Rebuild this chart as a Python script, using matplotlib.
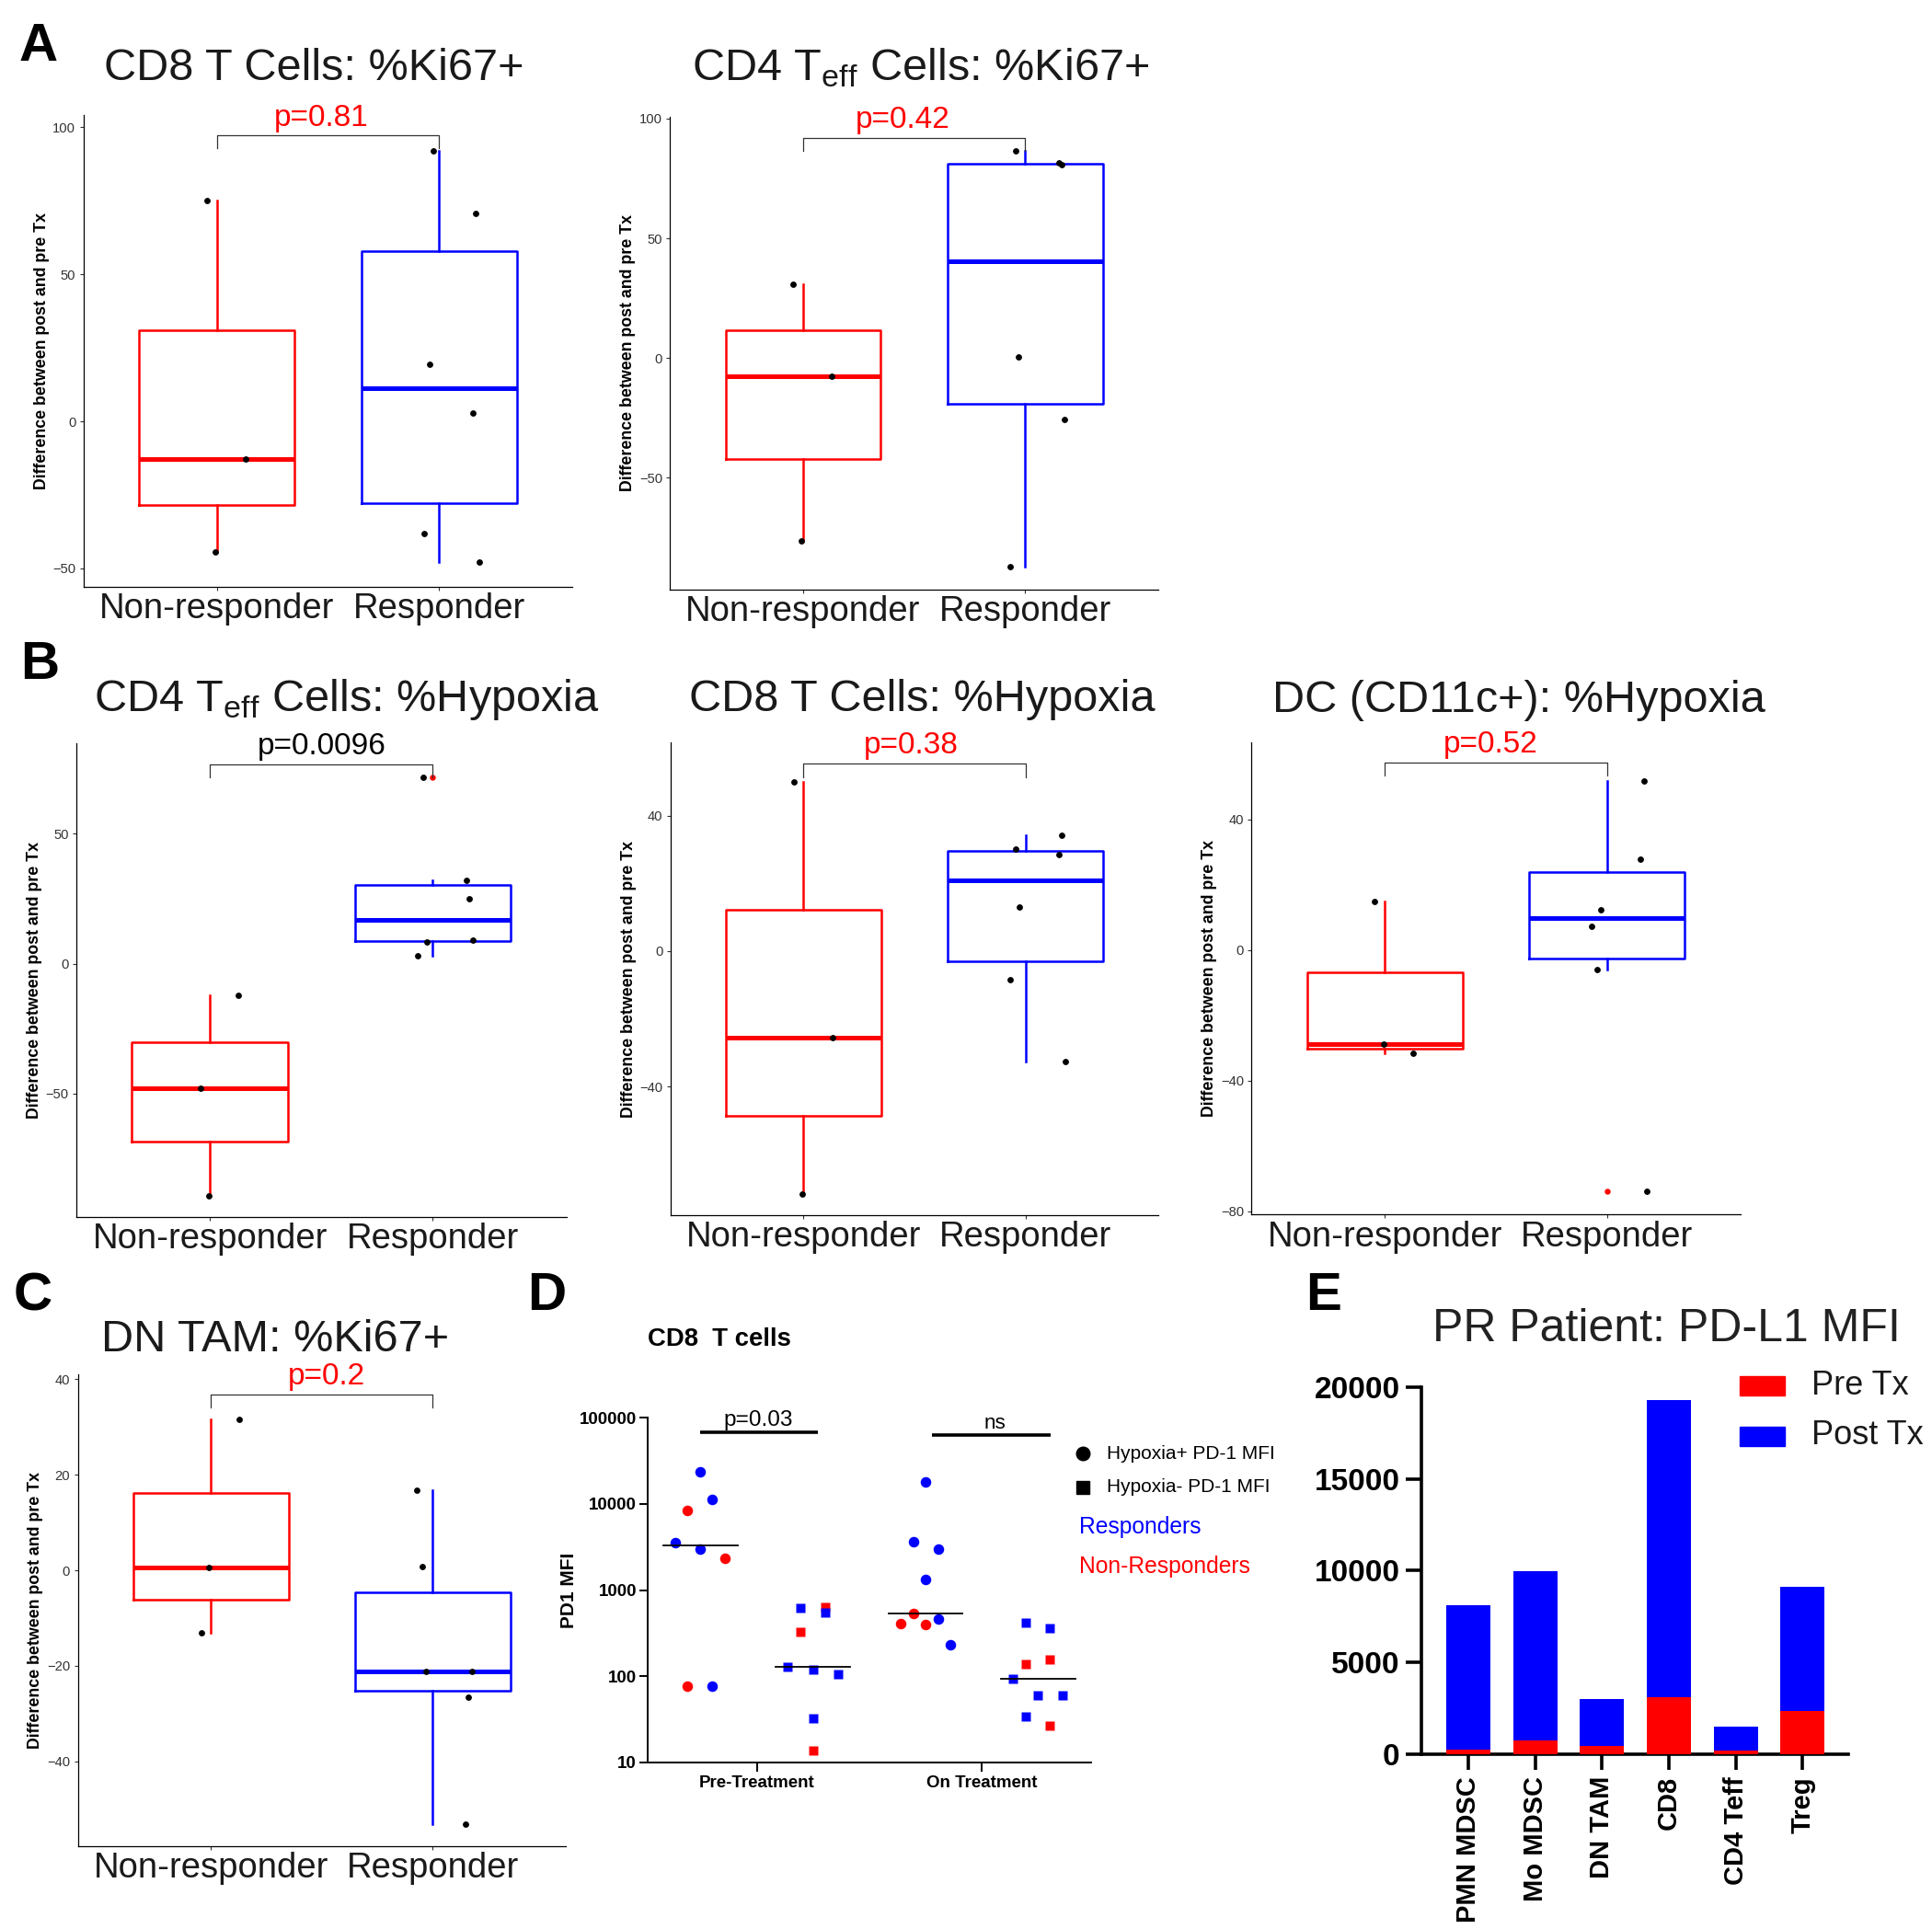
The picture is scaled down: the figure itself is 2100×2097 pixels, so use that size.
import numpy as np
import matplotlib
matplotlib.use('Agg')
import matplotlib.pyplot as plt
from matplotlib import font_manager
from matplotlib.lines import Line2D
from matplotlib.patches import Rectangle

W, H = 2100, 2097

plt.rcParams['font.family'] = 'Liberation Sans'
plt.rcParams['mathtext.fontset'] = 'custom'
plt.rcParams['mathtext.rm'] = 'Liberation Sans'
plt.rcParams['mathtext.it'] = 'Liberation Sans'
plt.rcParams['mathtext.bf'] = 'Liberation Sans:bold'

names = {f.name for f in font_manager.fontManager.ttflist}
if 'Liberation Sans Narrow' in names:
    narrow, nscale = 'Liberation Sans Narrow', 1.0
else:
    narrow, nscale = 'Liberation Sans', 0.9

# ---------------- data ----------------
groups = ['Non-responder', 'Responder']

# A: CD8 T cells %Ki67+
cd8_ki67_nr = [75, -12.8, -44.3]
cd8_ki67_r = [92, 70.6, 19.4, 3.0, -38.0, -47.8]
# A: CD4 Teff %Ki67+
cd4_ki67_nr = [30.9, -7.7, -76.5]
cd4_ki67_r = [86.6, 81.4, 80.6, 0.3, -25.5, -87.0]
# B: CD4 Teff %Hypoxia
cd4_hyp_nr = [-12.2, -48.0, -89.4]
cd4_hyp_r = [71.7, 32.2, 25.0, 9.0, 8.4, 3.0]
# B: CD8 T %Hypoxia
cd8_hyp_nr = [50.0, -25.5, -71.6]
cd8_hyp_r = [34.3, 30.1, 28.5, 13.0, -8.5, -32.6]
# B: DC (CD11c+) %Hypoxia
dc_hyp_nr = [15.0, -28.8, -31.7]
dc_hyp_r = [51.7, 27.9, 12.3, 7.4, -5.9, -74.0]
# C: DN TAM %Ki67+
tam_ki67_nr = [31.7, 0.6, -13.0]
tam_ki67_r = [16.7, 0.8, -21.2, -21.2, -26.6, -53.2]

# horizontal jitter of the dots (category units)
cd8_ki67_nr_jit = [-0.046, 0.128, -0.007]
cd8_ki67_r_jit = [-0.027, 0.164, -0.044, 0.150, -0.069, 0.179]
cd4_ki67_nr_jit = [-0.046, 0.128, -0.007]
cd4_ki67_r_jit = [-0.044, 0.154, 0.166, -0.029, 0.177, -0.069]
cd4_hyp_nr_jit = [0.128, -0.043, -0.005]
cd4_hyp_r_jit = [-0.043, 0.151, 0.165, 0.181, -0.026, -0.069]
cd8_hyp_nr_jit = [-0.045, 0.129, -0.007]
cd8_hyp_r_jit = [0.163, -0.045, 0.149, -0.027, -0.070, 0.178]
dc_hyp_nr_jit = [-0.046, -0.007, 0.127]
dc_hyp_r_jit = [0.164, 0.150, -0.028, -0.071, -0.044, 0.180]
tam_ki67_nr_jit = [0.128, -0.007, -0.044]
tam_ki67_r_jit = [-0.071, -0.046, -0.030, 0.177, 0.162, 0.149]

# D: PD1 MFI on CD8 T cells (1 = responder, 0 = non-responder)
d_ticklabels = ['Pre-Treatment', 'On Treatment']
pre_hpos = [23200, 11200, 8450, 3560, 3000, 2350, 77, 77]
pre_hpos_resp = [1, 1, 0, 1, 1, 0, 0, 1]
pre_hpos_jit = [0, 0.107, -0.115, -0.226, 0, 0.218, -0.115, 0.107]
pre_hneg = [617, 631, 551, 325, 128, 120, 105, 32.9, 13.8]
pre_hneg_resp = [1, 0, 1, 0, 1, 1, 1, 1, 0]
pre_hneg_jit = [-0.115, 0.107, 0.107, -0.115, -0.226, 0, 0.222, 0, 0]
on_hpos = [18100, 3600, 3000, 1340, 533, 460, 407, 394, 232]
on_hpos_resp = [1, 1, 1, 1, 0, 1, 0, 0, 1]
on_hpos_jit = [0, -0.111, 0.111, 0, -0.111, 0.111, -0.222, 0, 0.222]
on_hneg = [417, 364, 157, 137, 94.6, 59.7, 59.7, 34, 26.9]
on_hneg_resp = [1, 1, 0, 0, 1, 1, 1, 1, 0]
on_hneg_jit = [-0.111, 0.103, 0.103, -0.111, -0.222, 0, 0.214, -0.111, 0.103]

# E: PR patient PD-L1 MFI
e_cells = ['PMN MDSC', 'Mo MDSC', 'DN TAM', 'CD8', 'CD4 Teff', 'Treg']
e_pre = [274, 755, 480, 3134, 229, 2356]
e_post = [8097, 9995, 2996, 19259, 1532, 9103]

RED, BLUE = '#ff0000', '#0000ff'
TXT = '#1a1a1a'

fig = plt.figure(figsize=(W / 100, H / 100), dpi=100)


def add_ax(l, t, r, b):
    return fig.add_axes([l / W, 1 - b / H, (r - l) / W, (b - t) / H])


def ftext(x, y, s, **kw):
    return fig.text(x / W, 1 - y / H, s, **kw)


def box_panel(rect, nr, r, nr_jit, r_jit, ylim, yticks, br, ptxt, pcol, pxy,
              title, txy):
    ax = add_ax(*rect)
    for pos, vals, col in [(1, nr, RED), (2, r, BLUE)]:
        ax.boxplot(vals, positions=[pos], widths=0.7, showcaps=False,
                   manage_ticks=False,
                   boxprops=dict(color=col, linewidth=1.8),
                   whiskerprops=dict(color=col, linewidth=1.8),
                   medianprops=dict(color=col, linewidth=3.6,
                                    solid_capstyle='butt'),
                   flierprops=dict(marker='o', markerfacecolor=RED,
                                   markeredgecolor=RED, markersize=3.6))
    ax.plot(1 + np.array(nr_jit), nr, 'o', color='black', ms=3.9, zorder=4)
    ax.plot(2 + np.array(r_jit), r, 'o', color='black', ms=3.9, zorder=4)
    ax.plot([1, 1, 2, 2], [br[1], br[0], br[0], br[1]], color='#333333',
            lw=0.9, clip_on=False)
    ax.text(pxy[0], pxy[1], ptxt, color=pcol, fontsize=24, ha='center',
            va='center')
    ax.set_xlim(0.4, 2.6)
    ax.set_ylim(*ylim)
    ax.set_yticks(yticks)
    ax.set_xticks([1, 2], groups)
    for s in ['top', 'right']:
        ax.spines[s].set_visible(False)
    for s in ['left', 'bottom']:
        ax.spines[s].set_linewidth(0.9)
    ax.tick_params(axis='x', length=3, width=0.8, color='#333333', pad=1.5,
                   labelsize=27.5, labelcolor=TXT)
    ax.tick_params(axis='y', length=3, width=0.8, color='#333333', pad=3,
                   labelsize=10.6, labelcolor='#333333')
    l, t, rr, b = rect
    ftext(l - 45.5, (t + b) / 2, 'Difference between post and pre Tx',
          rotation=90, ha='center', va='center', fontsize=12.8,
          fontweight='bold', color='black')
    ftext(txy[0], txy[1], title, ha='center', va='baseline', fontsize=35,
          color=TXT)
    return ax


box_panel((90.6, 125, 622.4, 637.5), cd8_ki67_nr, cd8_ki67_r,
          cd8_ki67_nr_jit, cd8_ki67_r_jit, (-56.1, 104.2), [-50, 0, 50, 100],
          (97.2, 93.0), 'p=0.81', RED, (1.47, 103), 'CD8 T Cells: %Ki67+',
          (341.6, 87))
box_panel((728.4, 127, 1258.8, 641), cd4_ki67_nr, cd4_ki67_r,
          cd4_ki67_nr_jit, cd4_ki67_r_jit, (-96.7, 100.7), [-50, 0, 50, 100],
          (91.7, 86.4), 'p=0.42', RED, (1.45, 99.4),
          r'CD4 T$_{\mathregular{eff}}$ Cells: %Ki67+', (1001, 87))
box_panel((82.9, 808.3, 615.8, 1323), cd4_hyp_nr, cd4_hyp_r,
          cd4_hyp_nr_jit, cd4_hyp_r_jit, (-97.6, 84.8), [-50, 0, 50],
          (76.7, 71.8), 'p=0.0096', 'black', (1.5, 83.7),
          r'CD4 T$_{\mathregular{eff}}$ Cells: %Hypoxia', (377, 772.6))
box_panel((728.8, 807.4, 1259.3, 1320.8), cd8_hyp_nr, cd8_hyp_r,
          cd8_hyp_nr_jit, cd8_hyp_r_jit, (-77.9, 61.5), [-40, 0, 40],
          (55.3, 51.4), 'p=0.38', RED, (1.485, 60.6),
          'CD8 T Cells: %Hypoxia', (1002, 772.6))
box_panel((1360.3, 807.4, 1891.9, 1320.3), dc_hyp_nr, dc_hyp_r,
          dc_hyp_nr_jit, dc_hyp_r_jit, (-81, 63.5), [-80, -40, 0, 40],
          (57.4, 53.5), 'p=0.52', RED, (1.475, 62.9),
          'DC (CD11c+): %Hypoxia', (1651, 774))
box_panel((84.5, 1494.3, 614.9, 2006.5), tam_ki67_nr, tam_ki67_r,
          tam_ki67_nr_jit, tam_ki67_r_jit, (-57.7, 41), [-40, -20, 0, 20, 40],
          (36.8, 34.1), 'p=0.2', RED, (1.52, 40.5), 'DN TAM: %Ki67+',
          (299, 1469))

# ---------------- D ----------------
axd = add_ax(703.8, 1541, 1186, 1916)
axd.set_yscale('log')
d_sets = [(1, pre_hpos, pre_hpos_resp, pre_hpos_jit, 'o'),
          (2, pre_hneg, pre_hneg_resp, pre_hneg_jit, 's'),
          (3, on_hpos, on_hpos_resp, on_hpos_jit, 'o'),
          (4, on_hneg, on_hneg_resp, on_hneg_jit, 's')]
for pos, vals, resp, jit, mk in d_sets:
    for v, rsp, j in zip(vals, resp, jit):
        axd.plot(pos + j, v, mk, color=BLUE if rsp else RED,
                 ms=8.3 if mk == 'o' else 7.5, mec='none', zorder=3)
    med = np.median(vals)
    axd.plot([pos - 0.33, pos + 0.33], [med, med], color='black', lw=1.3,
             zorder=4)
axd.plot([1.0, 2.047], [66700, 66700], color='black', lw=2.6,
         solid_capstyle='butt', clip_on=False)
axd.plot([3.056, 4.107], [63000, 63000], color='black', lw=2.6,
         solid_capstyle='butt', clip_on=False)
axd.annotate('p=0.03', (1.517, 66700), xytext=(0, 1.5),
             textcoords='offset points', ha='center', va='bottom',
             family=narrow, fontsize=19.5 * nscale, annotation_clip=False)
axd.annotate('ns', (3.615, 63000), xytext=(0, 1.5),
             textcoords='offset points', ha='center', va='bottom',
             family=narrow, fontsize=18 * nscale, annotation_clip=False)
axd.set_xlim(0.53, 4.47)
axd.set_ylim(10, 100000)
axd.minorticks_off()
axd.set_yticks([10, 100, 1000, 10000, 100000],
               ['10', '100', '1000', '10000', '100000'])
axd.set_xticks([1.5, 3.5], d_ticklabels)
for s in ['top', 'right']:
    axd.spines[s].set_visible(False)
for s in ['left', 'bottom']:
    axd.spines[s].set_linewidth(1.4)
axd.tick_params(axis='y', length=6.5, width=1.4, pad=2)
axd.tick_params(axis='x', length=7, width=1.4, pad=3)
for lab in axd.get_yticklabels() + axd.get_xticklabels():
    lab.set_family(narrow)
    lab.set_fontweight('bold')
    lab.set_fontsize(15 * nscale)
ftext(618.6, 1728.5, 'PD1 MFI', rotation=90, ha='center', va='center',
      fontsize=15, fontweight='bold')
ftext(703.8, 1463, 'CD8  T cells', ha='left', va='baseline', family=narrow,
      fontweight='bold', fontsize=22 * nscale)
fig.add_artist(Line2D([1177 / W], [1 - 1580 / H], marker='o', ms=10.5,
                      color='black', ls='none', transform=fig.transFigure))
fig.add_artist(Line2D([1177 / W], [1 - 1617 / H], marker='s', ms=9.8,
                      color='black', ls='none', transform=fig.transFigure))
ftext(1203, 1580, 'Hypoxia+ PD-1 MFI', va='center', family=narrow,
      fontsize=16.7 * nscale)
ftext(1203, 1617, 'Hypoxia- PD-1 MFI', va='center', family=narrow,
      fontsize=16.7 * nscale)
ftext(1173, 1660, 'Responders', va='center', family=narrow,
      fontsize=19.7 * nscale, color=BLUE)
ftext(1173, 1703, 'Non-Responders', va='center', family=narrow,
      fontsize=19.7 * nscale, color=RED)

# ---------------- E ----------------
axe = add_ax(1545, 1507.6, 2009.4, 1907.3)
xe = np.arange(len(e_cells))
axe.bar(xe, e_post, width=0.66, color=BLUE, zorder=2)
axe.bar(xe, e_pre, width=0.66, color=RED, zorder=3)
axe.set_xlim(-0.70, 5.69)
axe.set_ylim(0, 20000)
axe.set_yticks([0, 5000, 10000, 15000, 20000],
               ['0', '5000', '10000', '15000', '20000'])
axe.set_xticks(xe, e_cells, rotation=90)
for s in ['top', 'right']:
    axe.spines[s].set_visible(False)
for s in ['left', 'bottom']:
    axe.spines[s].set_linewidth(2.6)
axe.tick_params(axis='y', length=11.9, width=2.6, pad=5, labelsize=24)
axe.tick_params(axis='x', length=12, width=2.6, pad=5, labelsize=21)
for lab in axe.get_yticklabels() + axe.get_xticklabels():
    lab.set_fontweight('bold')
ftext(1811, 1458, 'PR Patient: PD-L1 MFI', ha='center', va='baseline',
      fontsize=36, color='#222222')
fig.add_artist(Rectangle((1891 / W, 1 - 1517 / H), 49 / W, 21.3 / H,
                         color=RED, transform=fig.transFigure))
fig.add_artist(Rectangle((1891 / W, 1 - 1572 / H), 49 / W, 21.3 / H,
                         color=BLUE, transform=fig.transFigure))
ftext(1969, 1506, 'Pre Tx', va='center', fontsize=26, color=TXT)
ftext(1969, 1561, 'Post Tx', va='center', fontsize=26, color=TXT)

# panel letters
for letter, x, y in [('A', 41.5, 51.5), ('B', 43, 723.5), ('C', 35.5, 1409.5),
                     ('D', 594, 1408.5), ('E', 1438.5, 1408.5)]:
    ftext(x, y, letter, ha='center', va='center', fontsize=42,
          fontweight='bold', color='black')

fig.savefig('out.png', dpi=100, facecolor='white')
